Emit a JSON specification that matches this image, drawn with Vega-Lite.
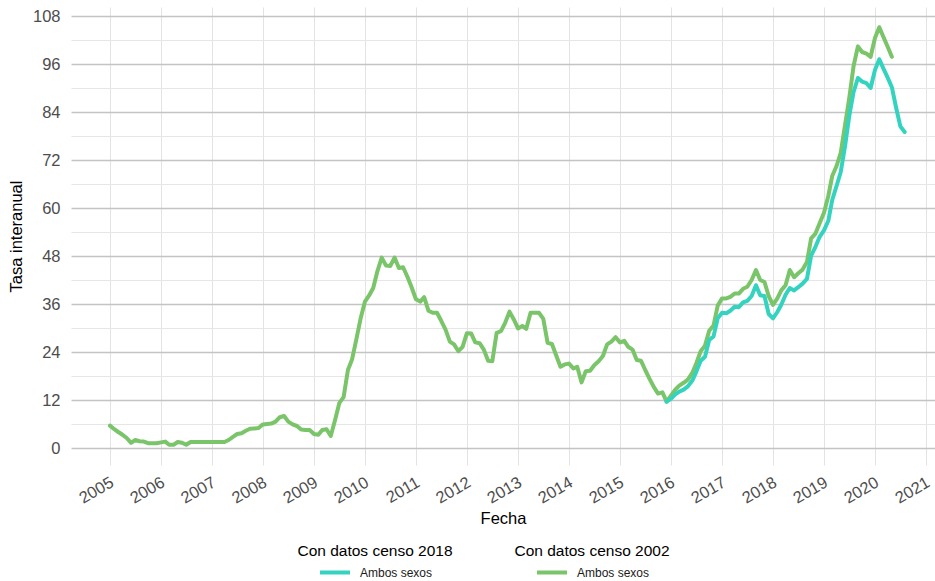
{
  "$schema": "https://vega.github.io/schema/vega-lite/v6.json",
  "width": 864,
  "height": 458,
  "autosize": {"type": "none"},
  "padding": {"left": 71, "top": 7, "right": 0, "bottom": 116},
  "background": "white",
  "config": {
    "font": "Liberation Sans",
    "view": {"stroke": null}
  },
  "datasets": {
    "c2002": [
      {"fecha":"2005-01-01","valor":5.6,"sexo":"Ambos sexos"},
      {"fecha":"2005-02-01","valor":4.7,"sexo":"Ambos sexos"},
      {"fecha":"2005-03-01","valor":4.0,"sexo":"Ambos sexos"},
      {"fecha":"2005-04-01","valor":3.3,"sexo":"Ambos sexos"},
      {"fecha":"2005-05-01","valor":2.5,"sexo":"Ambos sexos"},
      {"fecha":"2005-06-01","valor":1.3,"sexo":"Ambos sexos"},
      {"fecha":"2005-07-01","valor":2.0,"sexo":"Ambos sexos"},
      {"fecha":"2005-08-01","valor":1.7,"sexo":"Ambos sexos"},
      {"fecha":"2005-09-01","valor":1.6,"sexo":"Ambos sexos"},
      {"fecha":"2005-10-01","valor":1.2,"sexo":"Ambos sexos"},
      {"fecha":"2005-11-01","valor":1.2,"sexo":"Ambos sexos"},
      {"fecha":"2005-12-01","valor":1.2,"sexo":"Ambos sexos"},
      {"fecha":"2006-01-01","valor":1.4,"sexo":"Ambos sexos"},
      {"fecha":"2006-02-01","valor":1.6,"sexo":"Ambos sexos"},
      {"fecha":"2006-03-01","valor":0.8,"sexo":"Ambos sexos"},
      {"fecha":"2006-04-01","valor":0.8,"sexo":"Ambos sexos"},
      {"fecha":"2006-05-01","valor":1.5,"sexo":"Ambos sexos"},
      {"fecha":"2006-06-01","valor":1.3,"sexo":"Ambos sexos"},
      {"fecha":"2006-07-01","valor":0.8,"sexo":"Ambos sexos"},
      {"fecha":"2006-08-01","valor":1.5,"sexo":"Ambos sexos"},
      {"fecha":"2006-09-01","valor":1.5,"sexo":"Ambos sexos"},
      {"fecha":"2006-10-01","valor":1.5,"sexo":"Ambos sexos"},
      {"fecha":"2006-11-01","valor":1.5,"sexo":"Ambos sexos"},
      {"fecha":"2006-12-01","valor":1.5,"sexo":"Ambos sexos"},
      {"fecha":"2007-01-01","valor":1.5,"sexo":"Ambos sexos"},
      {"fecha":"2007-02-01","valor":1.5,"sexo":"Ambos sexos"},
      {"fecha":"2007-03-01","valor":1.5,"sexo":"Ambos sexos"},
      {"fecha":"2007-04-01","valor":1.5,"sexo":"Ambos sexos"},
      {"fecha":"2007-05-01","valor":2.0,"sexo":"Ambos sexos"},
      {"fecha":"2007-06-01","valor":2.8,"sexo":"Ambos sexos"},
      {"fecha":"2007-07-01","valor":3.5,"sexo":"Ambos sexos"},
      {"fecha":"2007-08-01","valor":3.7,"sexo":"Ambos sexos"},
      {"fecha":"2007-09-01","valor":4.3,"sexo":"Ambos sexos"},
      {"fecha":"2007-10-01","valor":4.8,"sexo":"Ambos sexos"},
      {"fecha":"2007-11-01","valor":4.9,"sexo":"Ambos sexos"},
      {"fecha":"2007-12-01","valor":5.0,"sexo":"Ambos sexos"},
      {"fecha":"2008-01-01","valor":5.9,"sexo":"Ambos sexos"},
      {"fecha":"2008-02-01","valor":6.0,"sexo":"Ambos sexos"},
      {"fecha":"2008-03-01","valor":6.1,"sexo":"Ambos sexos"},
      {"fecha":"2008-04-01","valor":6.6,"sexo":"Ambos sexos"},
      {"fecha":"2008-05-01","valor":7.7,"sexo":"Ambos sexos"},
      {"fecha":"2008-06-01","valor":8.0,"sexo":"Ambos sexos"},
      {"fecha":"2008-07-01","valor":6.6,"sexo":"Ambos sexos"},
      {"fecha":"2008-08-01","valor":5.9,"sexo":"Ambos sexos"},
      {"fecha":"2008-09-01","valor":5.5,"sexo":"Ambos sexos"},
      {"fecha":"2008-10-01","valor":4.6,"sexo":"Ambos sexos"},
      {"fecha":"2008-11-01","valor":4.5,"sexo":"Ambos sexos"},
      {"fecha":"2008-12-01","valor":4.5,"sexo":"Ambos sexos"},
      {"fecha":"2009-01-01","valor":3.5,"sexo":"Ambos sexos"},
      {"fecha":"2009-02-01","valor":3.3,"sexo":"Ambos sexos"},
      {"fecha":"2009-03-01","valor":4.5,"sexo":"Ambos sexos"},
      {"fecha":"2009-04-01","valor":4.7,"sexo":"Ambos sexos"},
      {"fecha":"2009-05-01","valor":3.0,"sexo":"Ambos sexos"},
      {"fecha":"2009-06-01","valor":7.0,"sexo":"Ambos sexos"},
      {"fecha":"2009-07-01","valor":11.2,"sexo":"Ambos sexos"},
      {"fecha":"2009-08-01","valor":12.7,"sexo":"Ambos sexos"},
      {"fecha":"2009-09-01","valor":19.5,"sexo":"Ambos sexos"},
      {"fecha":"2009-10-01","valor":22.2,"sexo":"Ambos sexos"},
      {"fecha":"2009-11-01","valor":27.3,"sexo":"Ambos sexos"},
      {"fecha":"2009-12-01","valor":32.4,"sexo":"Ambos sexos"},
      {"fecha":"2010-01-01","valor":36.6,"sexo":"Ambos sexos"},
      {"fecha":"2010-02-01","valor":38.2,"sexo":"Ambos sexos"},
      {"fecha":"2010-03-01","valor":40.0,"sexo":"Ambos sexos"},
      {"fecha":"2010-04-01","valor":44.3,"sexo":"Ambos sexos"},
      {"fecha":"2010-05-01","valor":47.6,"sexo":"Ambos sexos"},
      {"fecha":"2010-06-01","valor":45.6,"sexo":"Ambos sexos"},
      {"fecha":"2010-07-01","valor":45.5,"sexo":"Ambos sexos"},
      {"fecha":"2010-08-01","valor":47.6,"sexo":"Ambos sexos"},
      {"fecha":"2010-09-01","valor":45.0,"sexo":"Ambos sexos"},
      {"fecha":"2010-10-01","valor":45.2,"sexo":"Ambos sexos"},
      {"fecha":"2010-11-01","valor":42.8,"sexo":"Ambos sexos"},
      {"fecha":"2010-12-01","valor":40.2,"sexo":"Ambos sexos"},
      {"fecha":"2011-01-01","valor":37.2,"sexo":"Ambos sexos"},
      {"fecha":"2011-02-01","valor":36.6,"sexo":"Ambos sexos"},
      {"fecha":"2011-03-01","valor":37.7,"sexo":"Ambos sexos"},
      {"fecha":"2011-04-01","valor":34.3,"sexo":"Ambos sexos"},
      {"fecha":"2011-05-01","valor":33.8,"sexo":"Ambos sexos"},
      {"fecha":"2011-06-01","valor":33.8,"sexo":"Ambos sexos"},
      {"fecha":"2011-07-01","valor":31.8,"sexo":"Ambos sexos"},
      {"fecha":"2011-08-01","valor":29.6,"sexo":"Ambos sexos"},
      {"fecha":"2011-09-01","valor":26.6,"sexo":"Ambos sexos"},
      {"fecha":"2011-10-01","valor":25.9,"sexo":"Ambos sexos"},
      {"fecha":"2011-11-01","valor":24.2,"sexo":"Ambos sexos"},
      {"fecha":"2011-12-01","valor":25.3,"sexo":"Ambos sexos"},
      {"fecha":"2012-01-01","valor":28.7,"sexo":"Ambos sexos"},
      {"fecha":"2012-02-01","valor":28.6,"sexo":"Ambos sexos"},
      {"fecha":"2012-03-01","valor":26.4,"sexo":"Ambos sexos"},
      {"fecha":"2012-04-01","valor":26.2,"sexo":"Ambos sexos"},
      {"fecha":"2012-05-01","valor":24.6,"sexo":"Ambos sexos"},
      {"fecha":"2012-06-01","valor":21.8,"sexo":"Ambos sexos"},
      {"fecha":"2012-07-01","valor":21.7,"sexo":"Ambos sexos"},
      {"fecha":"2012-08-01","valor":28.8,"sexo":"Ambos sexos"},
      {"fecha":"2012-09-01","valor":29.2,"sexo":"Ambos sexos"},
      {"fecha":"2012-10-01","valor":31.3,"sexo":"Ambos sexos"},
      {"fecha":"2012-11-01","valor":34.1,"sexo":"Ambos sexos"},
      {"fecha":"2012-12-01","valor":32.2,"sexo":"Ambos sexos"},
      {"fecha":"2013-01-01","valor":29.9,"sexo":"Ambos sexos"},
      {"fecha":"2013-02-01","valor":30.5,"sexo":"Ambos sexos"},
      {"fecha":"2013-03-01","valor":29.8,"sexo":"Ambos sexos"},
      {"fecha":"2013-04-01","valor":33.8,"sexo":"Ambos sexos"},
      {"fecha":"2013-05-01","valor":33.8,"sexo":"Ambos sexos"},
      {"fecha":"2013-06-01","valor":33.8,"sexo":"Ambos sexos"},
      {"fecha":"2013-07-01","valor":32.3,"sexo":"Ambos sexos"},
      {"fecha":"2013-08-01","valor":26.3,"sexo":"Ambos sexos"},
      {"fecha":"2013-09-01","valor":26.0,"sexo":"Ambos sexos"},
      {"fecha":"2013-10-01","valor":23.2,"sexo":"Ambos sexos"},
      {"fecha":"2013-11-01","valor":20.3,"sexo":"Ambos sexos"},
      {"fecha":"2013-12-01","valor":20.9,"sexo":"Ambos sexos"},
      {"fecha":"2014-01-01","valor":21.1,"sexo":"Ambos sexos"},
      {"fecha":"2014-02-01","valor":19.9,"sexo":"Ambos sexos"},
      {"fecha":"2014-03-01","valor":20.3,"sexo":"Ambos sexos"},
      {"fecha":"2014-04-01","valor":16.4,"sexo":"Ambos sexos"},
      {"fecha":"2014-05-01","valor":19.2,"sexo":"Ambos sexos"},
      {"fecha":"2014-06-01","valor":19.3,"sexo":"Ambos sexos"},
      {"fecha":"2014-07-01","valor":20.7,"sexo":"Ambos sexos"},
      {"fecha":"2014-08-01","valor":21.7,"sexo":"Ambos sexos"},
      {"fecha":"2014-09-01","valor":23.0,"sexo":"Ambos sexos"},
      {"fecha":"2014-10-01","valor":25.9,"sexo":"Ambos sexos"},
      {"fecha":"2014-11-01","valor":26.6,"sexo":"Ambos sexos"},
      {"fecha":"2014-12-01","valor":27.7,"sexo":"Ambos sexos"},
      {"fecha":"2015-01-01","valor":26.4,"sexo":"Ambos sexos"},
      {"fecha":"2015-02-01","valor":26.8,"sexo":"Ambos sexos"},
      {"fecha":"2015-03-01","valor":25.3,"sexo":"Ambos sexos"},
      {"fecha":"2015-04-01","valor":24.6,"sexo":"Ambos sexos"},
      {"fecha":"2015-05-01","valor":22.0,"sexo":"Ambos sexos"},
      {"fecha":"2015-06-01","valor":21.8,"sexo":"Ambos sexos"},
      {"fecha":"2015-07-01","valor":19.5,"sexo":"Ambos sexos"},
      {"fecha":"2015-08-01","valor":17.3,"sexo":"Ambos sexos"},
      {"fecha":"2015-09-01","valor":15.2,"sexo":"Ambos sexos"},
      {"fecha":"2015-10-01","valor":13.6,"sexo":"Ambos sexos"},
      {"fecha":"2015-11-01","valor":13.9,"sexo":"Ambos sexos"},
      {"fecha":"2015-12-01","valor":11.6,"sexo":"Ambos sexos"},
      {"fecha":"2016-01-01","valor":13.1,"sexo":"Ambos sexos"},
      {"fecha":"2016-02-01","valor":14.6,"sexo":"Ambos sexos"},
      {"fecha":"2016-03-01","valor":15.6,"sexo":"Ambos sexos"},
      {"fecha":"2016-04-01","valor":16.3,"sexo":"Ambos sexos"},
      {"fecha":"2016-05-01","valor":17.1,"sexo":"Ambos sexos"},
      {"fecha":"2016-06-01","valor":18.7,"sexo":"Ambos sexos"},
      {"fecha":"2016-07-01","valor":21.2,"sexo":"Ambos sexos"},
      {"fecha":"2016-08-01","valor":24.2,"sexo":"Ambos sexos"},
      {"fecha":"2016-09-01","valor":25.6,"sexo":"Ambos sexos"},
      {"fecha":"2016-10-01","valor":29.3,"sexo":"Ambos sexos"},
      {"fecha":"2016-11-01","valor":30.6,"sexo":"Ambos sexos"},
      {"fecha":"2016-12-01","valor":35.6,"sexo":"Ambos sexos"},
      {"fecha":"2017-01-01","valor":37.4,"sexo":"Ambos sexos"},
      {"fecha":"2017-02-01","valor":37.4,"sexo":"Ambos sexos"},
      {"fecha":"2017-03-01","valor":37.8,"sexo":"Ambos sexos"},
      {"fecha":"2017-04-01","valor":38.6,"sexo":"Ambos sexos"},
      {"fecha":"2017-05-01","valor":38.6,"sexo":"Ambos sexos"},
      {"fecha":"2017-06-01","valor":39.8,"sexo":"Ambos sexos"},
      {"fecha":"2017-07-01","valor":40.3,"sexo":"Ambos sexos"},
      {"fecha":"2017-08-01","valor":42.0,"sexo":"Ambos sexos"},
      {"fecha":"2017-09-01","valor":44.5,"sexo":"Ambos sexos"},
      {"fecha":"2017-10-01","valor":42.0,"sexo":"Ambos sexos"},
      {"fecha":"2017-11-01","valor":41.5,"sexo":"Ambos sexos"},
      {"fecha":"2017-12-01","valor":38.0,"sexo":"Ambos sexos"},
      {"fecha":"2018-01-01","valor":35.8,"sexo":"Ambos sexos"},
      {"fecha":"2018-02-01","valor":37.4,"sexo":"Ambos sexos"},
      {"fecha":"2018-03-01","valor":39.4,"sexo":"Ambos sexos"},
      {"fecha":"2018-04-01","valor":40.7,"sexo":"Ambos sexos"},
      {"fecha":"2018-05-01","valor":44.5,"sexo":"Ambos sexos"},
      {"fecha":"2018-06-01","valor":42.7,"sexo":"Ambos sexos"},
      {"fecha":"2018-07-01","valor":43.7,"sexo":"Ambos sexos"},
      {"fecha":"2018-08-01","valor":44.6,"sexo":"Ambos sexos"},
      {"fecha":"2018-09-01","valor":46.5,"sexo":"Ambos sexos"},
      {"fecha":"2018-10-01","valor":52.4,"sexo":"Ambos sexos"},
      {"fecha":"2018-11-01","valor":53.6,"sexo":"Ambos sexos"},
      {"fecha":"2018-12-01","valor":56.2,"sexo":"Ambos sexos"},
      {"fecha":"2019-01-01","valor":58.8,"sexo":"Ambos sexos"},
      {"fecha":"2019-02-01","valor":63.0,"sexo":"Ambos sexos"},
      {"fecha":"2019-03-01","valor":68.0,"sexo":"Ambos sexos"},
      {"fecha":"2019-04-01","valor":70.5,"sexo":"Ambos sexos"},
      {"fecha":"2019-05-01","valor":73.8,"sexo":"Ambos sexos"},
      {"fecha":"2019-06-01","valor":80.8,"sexo":"Ambos sexos"},
      {"fecha":"2019-07-01","valor":87.5,"sexo":"Ambos sexos"},
      {"fecha":"2019-08-01","valor":95.5,"sexo":"Ambos sexos"},
      {"fecha":"2019-09-01","valor":100.4,"sexo":"Ambos sexos"},
      {"fecha":"2019-10-01","valor":99.0,"sexo":"Ambos sexos"},
      {"fecha":"2019-11-01","valor":98.6,"sexo":"Ambos sexos"},
      {"fecha":"2019-12-01","valor":97.8,"sexo":"Ambos sexos"},
      {"fecha":"2020-01-01","valor":102.5,"sexo":"Ambos sexos"},
      {"fecha":"2020-02-01","valor":105.2,"sexo":"Ambos sexos"},
      {"fecha":"2020-03-01","valor":102.8,"sexo":"Ambos sexos"},
      {"fecha":"2020-04-01","valor":100.3,"sexo":"Ambos sexos"},
      {"fecha":"2020-05-01","valor":97.8,"sexo":"Ambos sexos"}
    ],
    "c2018": [
      {"fecha":"2015-12-01","valor":11.6,"sexo":"Ambos sexos"},
      {"fecha":"2016-01-01","valor":12.3,"sexo":"Ambos sexos"},
      {"fecha":"2016-02-01","valor":13.4,"sexo":"Ambos sexos"},
      {"fecha":"2016-03-01","valor":14.1,"sexo":"Ambos sexos"},
      {"fecha":"2016-04-01","valor":14.6,"sexo":"Ambos sexos"},
      {"fecha":"2016-05-01","valor":15.4,"sexo":"Ambos sexos"},
      {"fecha":"2016-06-01","valor":16.8,"sexo":"Ambos sexos"},
      {"fecha":"2016-07-01","valor":19.1,"sexo":"Ambos sexos"},
      {"fecha":"2016-08-01","valor":21.8,"sexo":"Ambos sexos"},
      {"fecha":"2016-09-01","valor":22.8,"sexo":"Ambos sexos"},
      {"fecha":"2016-10-01","valor":27.0,"sexo":"Ambos sexos"},
      {"fecha":"2016-11-01","valor":27.9,"sexo":"Ambos sexos"},
      {"fecha":"2016-12-01","valor":32.4,"sexo":"Ambos sexos"},
      {"fecha":"2017-01-01","valor":33.8,"sexo":"Ambos sexos"},
      {"fecha":"2017-02-01","valor":33.7,"sexo":"Ambos sexos"},
      {"fecha":"2017-03-01","valor":34.3,"sexo":"Ambos sexos"},
      {"fecha":"2017-04-01","valor":35.3,"sexo":"Ambos sexos"},
      {"fecha":"2017-05-01","valor":35.2,"sexo":"Ambos sexos"},
      {"fecha":"2017-06-01","valor":36.4,"sexo":"Ambos sexos"},
      {"fecha":"2017-07-01","valor":36.8,"sexo":"Ambos sexos"},
      {"fecha":"2017-08-01","valor":38.0,"sexo":"Ambos sexos"},
      {"fecha":"2017-09-01","valor":40.7,"sexo":"Ambos sexos"},
      {"fecha":"2017-10-01","valor":38.2,"sexo":"Ambos sexos"},
      {"fecha":"2017-11-01","valor":38.0,"sexo":"Ambos sexos"},
      {"fecha":"2017-12-01","valor":33.5,"sexo":"Ambos sexos"},
      {"fecha":"2018-01-01","valor":32.4,"sexo":"Ambos sexos"},
      {"fecha":"2018-02-01","valor":34.0,"sexo":"Ambos sexos"},
      {"fecha":"2018-03-01","valor":35.8,"sexo":"Ambos sexos"},
      {"fecha":"2018-04-01","valor":38.3,"sexo":"Ambos sexos"},
      {"fecha":"2018-05-01","valor":40.0,"sexo":"Ambos sexos"},
      {"fecha":"2018-06-01","valor":39.4,"sexo":"Ambos sexos"},
      {"fecha":"2018-07-01","valor":40.2,"sexo":"Ambos sexos"},
      {"fecha":"2018-08-01","valor":41.1,"sexo":"Ambos sexos"},
      {"fecha":"2018-09-01","valor":42.3,"sexo":"Ambos sexos"},
      {"fecha":"2018-10-01","valor":48.1,"sexo":"Ambos sexos"},
      {"fecha":"2018-11-01","valor":50.3,"sexo":"Ambos sexos"},
      {"fecha":"2018-12-01","valor":52.8,"sexo":"Ambos sexos"},
      {"fecha":"2019-01-01","valor":54.4,"sexo":"Ambos sexos"},
      {"fecha":"2019-02-01","valor":56.8,"sexo":"Ambos sexos"},
      {"fecha":"2019-03-01","valor":62.0,"sexo":"Ambos sexos"},
      {"fecha":"2019-04-01","valor":65.5,"sexo":"Ambos sexos"},
      {"fecha":"2019-05-01","valor":69.0,"sexo":"Ambos sexos"},
      {"fecha":"2019-06-01","valor":75.5,"sexo":"Ambos sexos"},
      {"fecha":"2019-07-01","valor":83.0,"sexo":"Ambos sexos"},
      {"fecha":"2019-08-01","valor":89.0,"sexo":"Ambos sexos"},
      {"fecha":"2019-09-01","valor":92.5,"sexo":"Ambos sexos"},
      {"fecha":"2019-10-01","valor":91.6,"sexo":"Ambos sexos"},
      {"fecha":"2019-11-01","valor":91.2,"sexo":"Ambos sexos"},
      {"fecha":"2019-12-01","valor":90.0,"sexo":"Ambos sexos"},
      {"fecha":"2020-01-01","valor":94.5,"sexo":"Ambos sexos"},
      {"fecha":"2020-02-01","valor":97.2,"sexo":"Ambos sexos"},
      {"fecha":"2020-03-01","valor":94.9,"sexo":"Ambos sexos"},
      {"fecha":"2020-04-01","valor":92.6,"sexo":"Ambos sexos"},
      {"fecha":"2020-05-01","valor":90.2,"sexo":"Ambos sexos"},
      {"fecha":"2020-06-01","valor":85.0,"sexo":"Ambos sexos"},
      {"fecha":"2020-07-01","valor":80.4,"sexo":"Ambos sexos"},
      {"fecha":"2020-08-01","valor":79.0,"sexo":"Ambos sexos"}
    ]
  },
  "encoding": {
    "x": {
      "field": "fecha",
      "type": "temporal",
      "title": "Fecha",
      "scale": {
        "type": "utc",
        "domain": [
          {"year": 2004, "month": 3, "date": 28, "utc": true},
          {"year": 2021, "month": 3, "date": 6, "utc": true}
        ]
      },
      "axis": {
        "format": "%Y",
        "tickCount": {"interval": "year", "step": 1},
        "labelAngle": -30,
        "labelAlign": "right",
        "labelBaseline": "top",
        "labelPadding": 9,
        "labelOffset": -2,
        "labelFontSize": 16.5,
        "labelColor": "#4d4d4d",
        "labelFlush": false,
        "labelOverlap": false,
        "grid": true,
        "gridColor": "#e3e3e3",
        "gridWidth": 1,
        "ticks": false,
        "domain": false,
        "titleFontSize": 16.5,
        "titleFontWeight": "normal",
        "titleColor": "#000000",
        "titlePadding": 4
      }
    },
    "y": {
      "field": "valor",
      "type": "quantitative",
      "title": "Tasa interanual",
      "scale": {"domain": [-4.25, 110.25], "nice": false, "zero": false},
      "axis": {
        "values": [0, 6, 12, 18, 24, 30, 36, 42, 48, 54, 60, 66, 72, 78, 84, 90, 96, 102, 108],
        "labelExpr": "datum.value % 12 === 0 ? datum.label : ''",
        "gridColor": {"condition": {"test": "datum.value % 12 === 0", "value": "#c4c4c4"}, "value": "#e6e6e6"},
        "gridWidth": {"condition": {"test": "datum.value % 12 === 0", "value": 1.3}, "value": 1},
        "ticks": false,
        "domain": false,
        "labelPadding": 11,
        "labelFontSize": 16.5,
        "labelColor": "#4d4d4d",
        "titleFontSize": 16.5,
        "titleFontWeight": "normal",
        "titleColor": "#000000",
        "titlePadding": 8
      }
    }
  },
  "layer": [
    {
      "data": {"name": "c2002"},
      "mark": {"type": "line", "strokeWidth": 4, "strokeJoin": "round", "strokeCap": "round"},
      "encoding": {
        "color": {
          "field": "sexo",
          "type": "nominal",
          "scale": {"range": ["#7ac46a"]},
          "legend": {
            "title": "Con datos censo 2002",
            "orient": "none",
            "legendX": 443,
            "legendY": 537,
            "direction": "vertical",
            "titleAnchor": "middle",
            "titleAlign": "center",
            "titleFontSize": 15.5,
            "titleFontWeight": "normal",
            "titleColor": "#000000",
            "titlePadding": -4,
            "labelFontSize": 12,
            "labelColor": "#1a1a1a",
            "labelOffset": 8,
            "symbolType": "stroke",
            "symbolStrokeWidth": 4,
            "symbolSize": 900,
            "padding": 0
          }
        }
      }
    },
    {
      "data": {"name": "c2018"},
      "mark": {"type": "line", "strokeWidth": 4, "strokeJoin": "round", "strokeCap": "round"},
      "encoding": {
        "color": {
          "field": "sexo",
          "type": "nominal",
          "scale": {"range": ["#33d3c0"]},
          "legend": {
            "title": "Con datos censo 2018",
            "orient": "none",
            "legendX": 226,
            "legendY": 537,
            "direction": "vertical",
            "titleAnchor": "middle",
            "titleAlign": "center",
            "titleFontSize": 15.5,
            "titleFontWeight": "normal",
            "titleColor": "#000000",
            "titlePadding": -4,
            "labelFontSize": 12,
            "labelColor": "#1a1a1a",
            "labelOffset": 8,
            "symbolType": "stroke",
            "symbolStrokeWidth": 4,
            "symbolSize": 900,
            "padding": 0
          }
        }
      }
    }
  ],
  "resolve": {"scale": {"color": "independent"}}
}
